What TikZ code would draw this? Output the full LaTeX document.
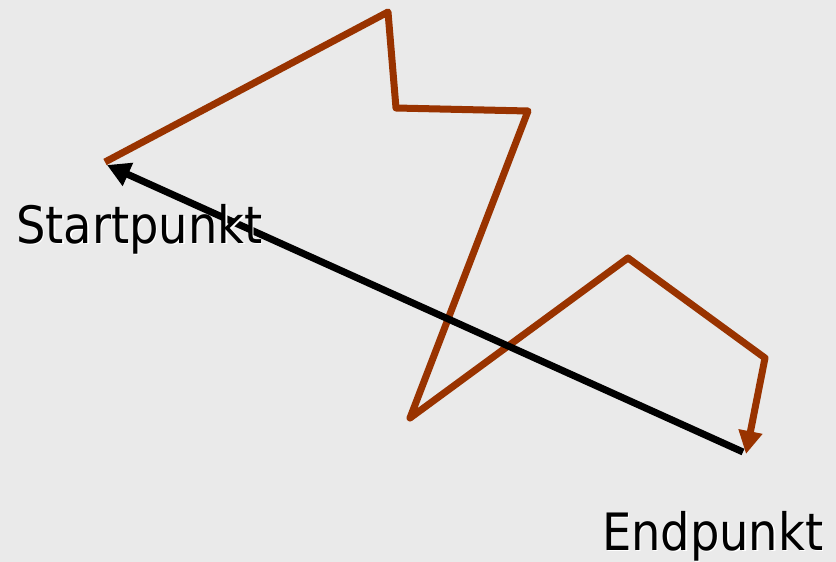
\documentclass[tikz,border=0pt]{standalone}
\usepackage{fontspec}
\setmainfont{DejaVu Sans Condensed}
\usepackage{xcolor}
\usetikzlibrary{arrows.meta}
\definecolor{pathbrown}{HTML}{993300}
\definecolor{bggray}{HTML}{EAEAEA}
\begin{document}
\begin{tikzpicture}[x=1pt,y=-1pt,
    route/.style={draw=pathbrown, line width=7pt, line join=round, -{Triangle[length=23pt,width=23pt]}},
    shortcut/.style={draw=black, line width=7pt, {Triangle[length=23pt,width=24pt]}-},
    label/.style={font=\fontsize{51.5}{60}\selectfont, anchor=base west, inner sep=0pt},
    labelshadow/.style={label, text=white}]
        % Background
        \fill[bggray] (0,0) rectangle (836,562);
        \useasboundingbox (0,0) rectangle (836,562);

        % Points of the route
        \coordinate (start) at (105,162);
        \coordinate (p1) at (388,12);
        \coordinate (p2) at (396,108);
        \coordinate (p3) at (528,111);
        \coordinate (p4) at (410,418);
        \coordinate (p5) at (628,258);
        \coordinate (p6) at (765,358);
        \coordinate (end) at (746,454);
        \coordinate (endline) at (743,452);
        \coordinate (starttip) at (107,165);

        % Brown route
        \draw[route] (start) -- (p1) -- (p2) -- (p3) -- (p4) -- (p5) -- (p6) -- (end);

        % Direct black arrow
        \draw[shortcut] (starttip) -- (endline);

        % Labels with white shadow
        \node[labelshadow] (startshadow) at (17.5,244.5) {Startpunkt};
        \node[label] (startlabel) at (16,243) {Startpunkt};
        \node[labelshadow] (endshadow) at (603.5,551.5) {Endpunkt};
        \node[label] (endlabel) at (602,550) {Endpunkt};
\end{tikzpicture}
\end{document}
